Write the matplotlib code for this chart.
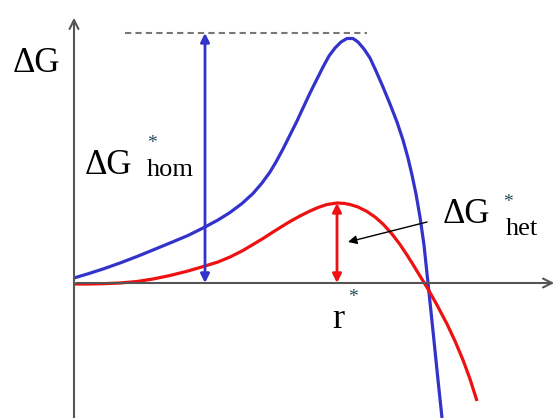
import matplotlib
matplotlib.use("Agg")
import matplotlib.pyplot as plt

# free energy curves (r, dG in arbitrary units)
r_hom = [0, 14, 29, 46, 63, 79, 96, 114, 131, 144, 156, 168, 179, 188, 196,
         202, 209, 216, 223, 229, 236, 243, 249, 255, 261, 267, 273, 279, 284,
         290, 296, 302, 309, 316, 323, 329, 334, 338, 342, 346, 350, 354,
         359, 364, 368]
g_hom = [5, 9.2, 14, 20, 26.5, 33, 40, 47.5, 56, 63, 70.5, 79.5, 89.5, 100, 111,
         121, 134, 148, 162, 175, 190, 204, 216, 227, 235, 241, 244.5, 244.5, 241,
         234, 225, 212, 196, 179, 161, 143, 125, 108, 89, 66, 38, 0,
         -48, -97, -135]

r_het = [0, 15, 29, 46, 63, 79, 96, 114, 131, 144, 156, 168, 179, 189, 199,
         207, 216, 226, 236, 244, 253, 263, 270, 276, 284, 293, 301, 309, 318,
         326, 333, 339, 346, 354, 363, 373, 381, 389, 396, 403]
g_het = [-1, -1, -0.7, 0, 1.5, 4, 7.5, 12, 17, 21, 26, 32, 38.5, 44.5, 51,
         56, 61.5, 67, 72, 75.5, 78.5, 80, 79.6, 78.5, 76, 71.5, 66, 59, 49,
         38.5, 28, 18.5, 7, -6, -22, -41, -58, -77, -96, -118]

r_star = 263
g_hom_max = 250
r_hom_arrow = 131

blue = '#3333cc'
red = '#ee1111'
axis_gray = '#555555'
star_col = '#1f4a5a'
serif = 'Liberation Serif'

fig = plt.figure(figsize=(5.59, 4.18), dpi=100)
ax = fig.add_axes([0, 0, 1, 1])
ax.set_xlim(-74, 485)
ax.set_ylim(-135, 283)
ax.axis('off')

# axes with open arrow heads
ax.annotate('', xy=(0, 268), xytext=(0, -140),
            arrowprops=dict(arrowstyle='->', color=axis_gray, lw=1.5, mutation_scale=16))
ax.annotate('', xy=(483, 0), xytext=(0, 0),
            arrowprops=dict(arrowstyle='->', color=axis_gray, lw=1.5, mutation_scale=16))

ax.plot(r_hom, g_hom, color=blue, lw=2.3, solid_capstyle='butt', solid_joinstyle='round')
ax.plot(r_het, g_het, color=red, lw=2.3, solid_capstyle='butt', solid_joinstyle='round')

# barrier heights
ax.plot([51, 293], [g_hom_max, g_hom_max], color='#777777', lw=1.5, ls=(0, (3, 2)))
ax.annotate('', xy=(r_hom_arrow, g_hom_max), xytext=(r_hom_arrow, 0),
            arrowprops=dict(arrowstyle='<|-|>', color=blue, lw=2, mutation_scale=13,
                            shrinkA=0, shrinkB=0))
ax.annotate('', xy=(r_star, max(g_het)), xytext=(r_star, 0),
            arrowprops=dict(arrowstyle='<|-|>', color=red, lw=2, mutation_scale=13,
                            shrinkA=0, shrinkB=0))
ax.annotate('', xy=(274, 41), xytext=(353, 61),
            arrowprops=dict(arrowstyle='-|>', color='black', lw=1, mutation_scale=13,
                            shrinkA=0, shrinkB=0))

# labels
ax.text(-38, 219, 'ΔG', family=serif, fontsize=25, ha='center', va='center')
ax.text(34, 118, 'ΔG', family=serif, fontsize=25, ha='center', va='center')
ax.text(73, 107, 'hom', family=serif, fontsize=19, ha='left', va='baseline')
ax.text(78, 140, '*', family=serif, fontsize=14, color=star_col, ha='center', va='center')

ax.text(392, 69, 'ΔG', family=serif, fontsize=25, ha='center', va='center')
ax.text(432, 48, 'het', family=serif, fontsize=19, ha='left', va='baseline')
ax.text(434, 81, '*', family=serif, fontsize=14, color=star_col, ha='center', va='center')

ax.text(264, -45, 'r', family=serif, fontsize=26, ha='center', va='baseline')
ax.text(279, -15, '*', family=serif, fontsize=14, color=star_col, ha='center', va='center')

fig.savefig('out.png', dpi=100)
